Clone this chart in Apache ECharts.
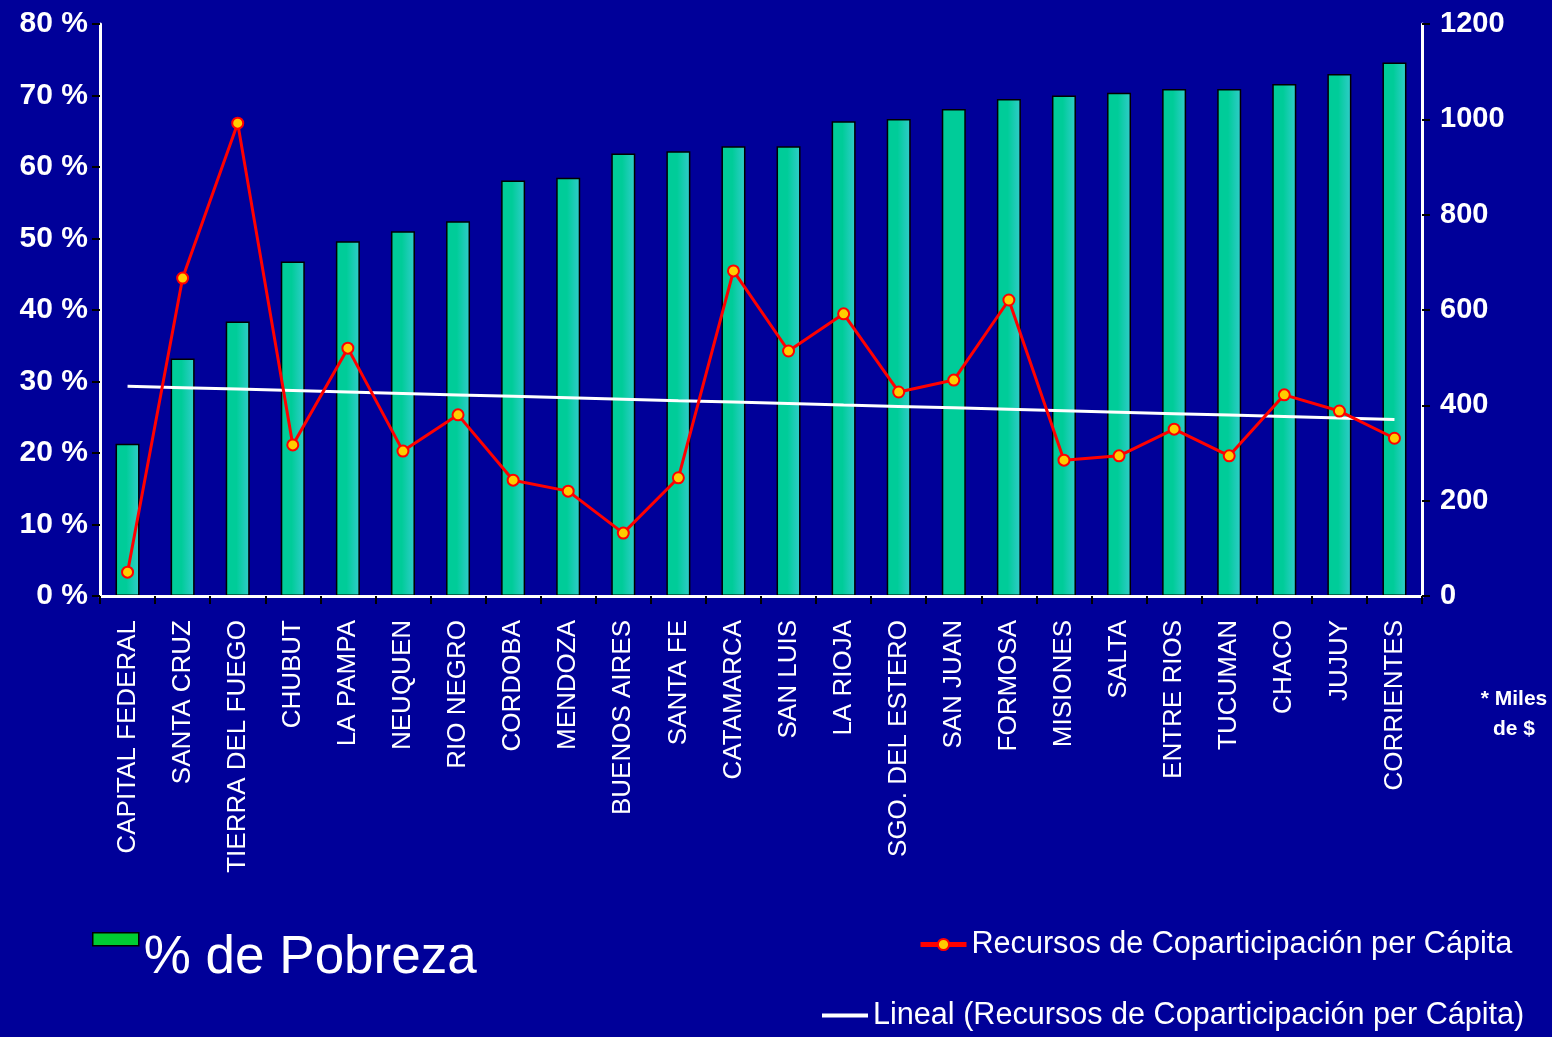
<!DOCTYPE html>
<html>
<head>
<meta charset="utf-8">
<script src="https://cdn.jsdelivr.net/npm/echarts@6/dist/echarts.min.js"></script>
<style>
  html, body { margin: 0; padding: 0; background: #000099; }
  #chart { width: 1552px; height: 1037px; }
</style>
</head>
<body>
<div id="chart"></div>
<script>
// provincias, ordenadas por % de pobreza
const categories = [
  'CAPITAL FEDERAL', 'SANTA CRUZ', 'TIERRA DEL FUEGO', 'CHUBUT', 'LA PAMPA',
  'NEUQUEN', 'RIO NEGRO', 'CORDOBA', 'MENDOZA', 'BUENOS AIRES', 'SANTA FE',
  'CATAMARCA', 'SAN LUIS', 'LA RIOJA', 'SGO. DEL ESTERO', 'SAN JUAN',
  'FORMOSA', 'MISIONES', 'SALTA', 'ENTRE RIOS', 'TUCUMAN', 'CHACO', 'JUJUY',
  'CORRIENTES'
];
const pobreza = [21.3, 33.2, 38.4, 46.8, 49.6, 51.0, 52.4, 58.1, 58.5, 61.9, 62.2, 62.9,
                 62.9, 66.4, 66.7, 68.1, 69.5, 70.0, 70.4, 70.9, 70.9, 71.6, 73.0, 74.6];
// miles de $ por habitante
const recursos = [50, 667, 992, 317, 520, 304, 380, 243, 220, 132, 248, 682,
                  514, 592, 428, 453, 621, 285, 294, 350, 294, 422, 388, 331];

const pctMax = 80, pctStep = 10;
const milesMax = 1200, milesStep = 200;

// tendencia lineal (minimos cuadrados), como la "Lineal" de Excel
const n = recursos.length;
let sx = 0, sy = 0, sxy = 0, sxx = 0;
recursos.forEach((v, i) => { sx += i; sy += v; sxy += i * v; sxx += i * i; });
const slope = (n * sxy - sx * sy) / (n * sxx - sx * sx);
const inter = (sy - slope * sx) / n;
const tendencia = recursos.map((v, i) => +(inter + slope * i).toFixed(1));

const barGradient = new echarts.graphic.LinearGradient(0, 0, 1, 0, [
  { offset: 0, color: '#00CC99' },
  { offset: 0.45, color: '#00CC99' },
  { offset: 1, color: '#33CCCC' }
]);
const barData = pobreza.map((v, i) => (
  categories[i] === 'SAN JUAN' ? { value: v, itemStyle: { color: '#00CC99' } } : v
));

const FONT = 'Liberation Sans';

const chart = echarts.init(document.getElementById('chart'));
chart.setOption({
  backgroundColor: '#000099',
  animation: false,
  grid: { left: 100, right: 130, top: 24, bottom: 441 },
  legend: [
    {
      left: 92, top: 932, padding: 0,
      itemWidth: 46, itemHeight: 13,
      data: [{ name: '% de Pobreza', icon: 'rect',
               itemStyle: { color: '#00CC33', borderColor: '#000', borderWidth: 1.5 } }],
      formatter: '{t|{name}}',
      textStyle: {
        color: '#fff', fontSize: 53, fontFamily: FONT,
        rich: { t: { color: '#fff', fontSize: 53, fontFamily: FONT, padding: [39, 0, 0, 0] } }
      }
    },
    {
      left: 918, top: 929, padding: 0,
      itemWidth: 46, itemHeight: 14,
      data: [{ name: 'Recursos de Coparticipación per Cápita',
               lineStyle: { width: 5 } }],
      textStyle: { color: '#fff', fontSize: 30.6, fontFamily: FONT }
    },
    {
      left: 822, top: 1000, padding: 0,
      itemWidth: 46, itemHeight: 14,
      data: [{ name: 'Lineal (Recursos de Coparticipación per Cápita)',
               icon: 'path://M0,0H46V4H0Z', itemStyle: { color: '#fff' } }],
      textStyle: { color: '#fff', fontSize: 30.6, fontFamily: FONT }
    }
  ],
  xAxis: {
    type: 'category',
    data: categories,
    z: 5,
    axisLine: { lineStyle: { color: '#fff', width: 3 } },
    axisTick: { show: true, length: 8, lineStyle: { color: '#000', width: 2 } },
    axisLabel: {
      rotate: 90, margin: 24, interval: 0,
      color: '#fff', fontSize: 26, fontFamily: FONT
    }
  },
  yAxis: [
    {
      type: 'value', min: 0, max: pctMax, interval: pctStep, z: 5,
      axisLine: { show: true, lineStyle: { color: '#fff', width: 3 } },
      axisTick: { show: true, length: 8, lineStyle: { color: '#000', width: 2 } },
      splitLine: { show: false },
      axisLabel: {
        formatter: v => v + ' %', margin: 12,
        color: '#fff', fontSize: 30, fontWeight: 'bold', fontFamily: FONT
      }
    },
    {
      type: 'value', min: 0, max: milesMax, interval: milesStep, z: 5,
      position: 'right',
      axisLine: { show: true, lineStyle: { color: '#fff', width: 3 } },
      axisTick: { show: true, length: 8, lineStyle: { color: '#000', width: 2 } },
      splitLine: { show: false },
      axisLabel: {
        formatter: v => String(v), margin: 18,
        color: '#fff', fontSize: 29, fontWeight: 'bold', fontFamily: FONT
      }
    }
  ],
  graphic: [{
    type: 'text', x: 1514, y: 684,
    style: {
      text: '* Miles\nde $', fill: '#fff', align: 'center',
      font: 'bold 21px "Liberation Sans"', lineHeight: 30
    }
  }],
  series: [
    {
      name: '% de Pobreza',
      type: 'bar',
      yAxisIndex: 0,
      barWidth: 24,
      data: barData,
      itemStyle: { color: barGradient, borderColor: '#000', borderWidth: 1.5 }
    },
    {
      name: 'Lineal (Recursos de Coparticipación per Cápita)',
      type: 'line',
      yAxisIndex: 1,
      data: tendencia,
      symbol: 'none',
      z: 3,
      lineStyle: { color: '#fff', width: 3 },
      itemStyle: { color: '#fff' }
    },
    {
      name: 'Recursos de Coparticipación per Cápita',
      type: 'line',
      yAxisIndex: 1,
      data: recursos,
      z: 4,
      symbol: 'circle',
      symbolSize: 11,
      lineStyle: { color: '#FF0000', width: 3 },
      itemStyle: { color: '#FFCC00', borderColor: '#FF0000', borderWidth: 2 }
    }
  ]
});
</script>
</body>
</html>
